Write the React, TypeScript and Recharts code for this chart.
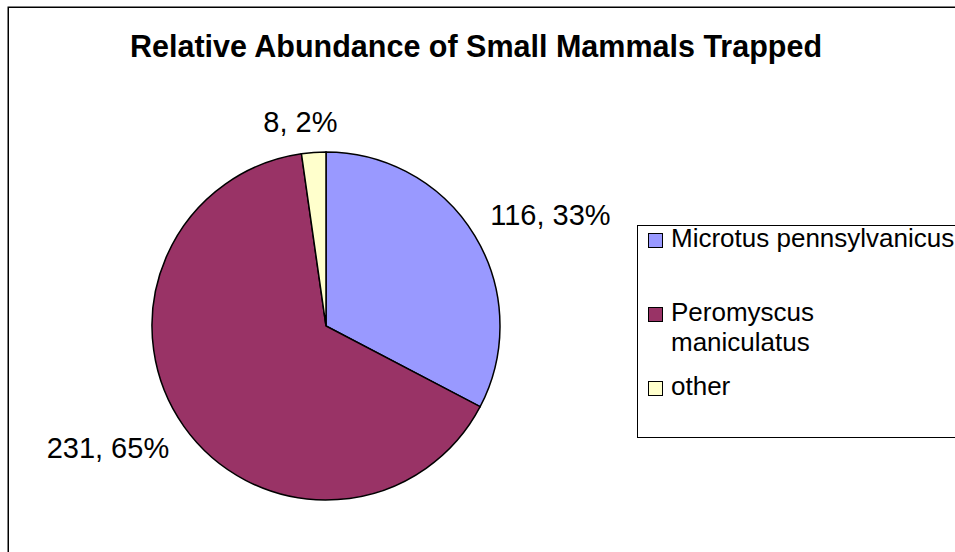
import React from "react";
import { PieChart, Pie, Cell, Legend, Customized } from "recharts";

const categories = ["Microtus pennsylvanicus", "Peromyscus maniculatus", "other"];
const counts = [116, 231, 8];
const colors = ["#9999FF", "#993366", "#FFFFCC"];
const titleText = "Relative Abundance of Small Mammals Trapped";

const data = categories.map((name, i) => ({ name, value: counts[i] }));

const FONT = '"Liberation Sans", Arial, sans-serif';
const LABEL_FS = 29;
const RAD = Math.PI / 180;

// legend row tops relative to legend box (style only)
const legendRowTops = [-3, 71, 145];

function renderLabel(p: any) {
  const { cx, cy, midAngle, outerRadius, value, percent } = p;
  const R = outerRadius + 18;
  const c = Math.cos(-midAngle * RAD);
  const s = Math.sin(-midAngle * RAD);
  let x = cx + R * c;
  const y = cy + R * s;
  const nearVertical = Math.abs(c) < 0.3;
  const anchor = nearVertical ? "middle" : c > 0 ? "start" : "end";
  if (nearVertical) x += c < 0 ? -12 : 12;
  const ty = s < 0 ? y - 2 : y + 0.72 * LABEL_FS;
  return (
    <text
      x={x}
      y={ty}
      textAnchor={anchor}
      fontFamily={FONT}
      fontSize={LABEL_FS}
      fill="#000"
    >
      {`${value}, ${Math.round(percent * 100)}%`}
    </text>
  );
}

const Decor = () => (
  <g>
    <rect
      x={8.25}
      y={7.25}
      width={3000}
      height={3000}
      fill="none"
      stroke="#000"
      strokeWidth={1.5}
    />
    <text
      x={476}
      y={57}
      textAnchor="middle"
      fontFamily={FONT}
      fontWeight="bold"
      fontSize={30.5}
      fill="#000"
    >
      {titleText}
    </text>
  </g>
);

const LegendBox = () => (
  <div
    style={{
      position: "relative",
      width: 330,
      height: 213,
      border: "1px solid #000",
      boxSizing: "border-box",
      background: "#fff",
      fontFamily: FONT,
      fontSize: 26,
      lineHeight: "30px",
      color: "#000",
    }}
  >
    {categories.map((name, i) => (
      <div
        key={name}
        style={{
          position: "absolute",
          left: 10,
          top: legendRowTops[i],
          display: "flex",
          alignItems: "flex-start",
        }}
      >
        <div
          style={{
            width: 15,
            height: 15,
            marginTop: 10,
            background: colors[i],
            border: "1.5px solid #000",
            boxSizing: "border-box",
            flex: "0 0 auto",
          }}
        />
        <div style={{ marginLeft: 8, width: 286, textAlign: "left" }}>{name}</div>
      </div>
    ))}
  </div>
);

export default function App() {
  return (
    <div
      style={{
        position: "fixed",
        left: 0,
        top: 0,
        width: 955,
        height: 552,
        overflow: "hidden",
        background: "#fff",
      }}
    >
      <PieChart width={955} height={552} margin={{ top: 0, right: 0, bottom: 0, left: 0 }}>
        <Customized component={Decor} />
        <Pie
          data={data}
          dataKey="value"
          nameKey="name"
          cx={326}
          cy={326}
          outerRadius={174}
          startAngle={90}
          endAngle={-270}
          stroke="#000"
          strokeWidth={1.5}
          label={renderLabel}
          labelLine={false}
          isAnimationActive={false}
        >
          {data.map((d, i) => (
            <Cell key={d.name} fill={colors[i]} />
          ))}
        </Pie>
        <Legend
          layout="vertical"
          align="right"
          verticalAlign="middle"
          content={() => <LegendBox />}
          wrapperStyle={{ left: 637, top: 225, width: 330, height: 213 }}
        />
      </PieChart>
    </div>
  );
}
